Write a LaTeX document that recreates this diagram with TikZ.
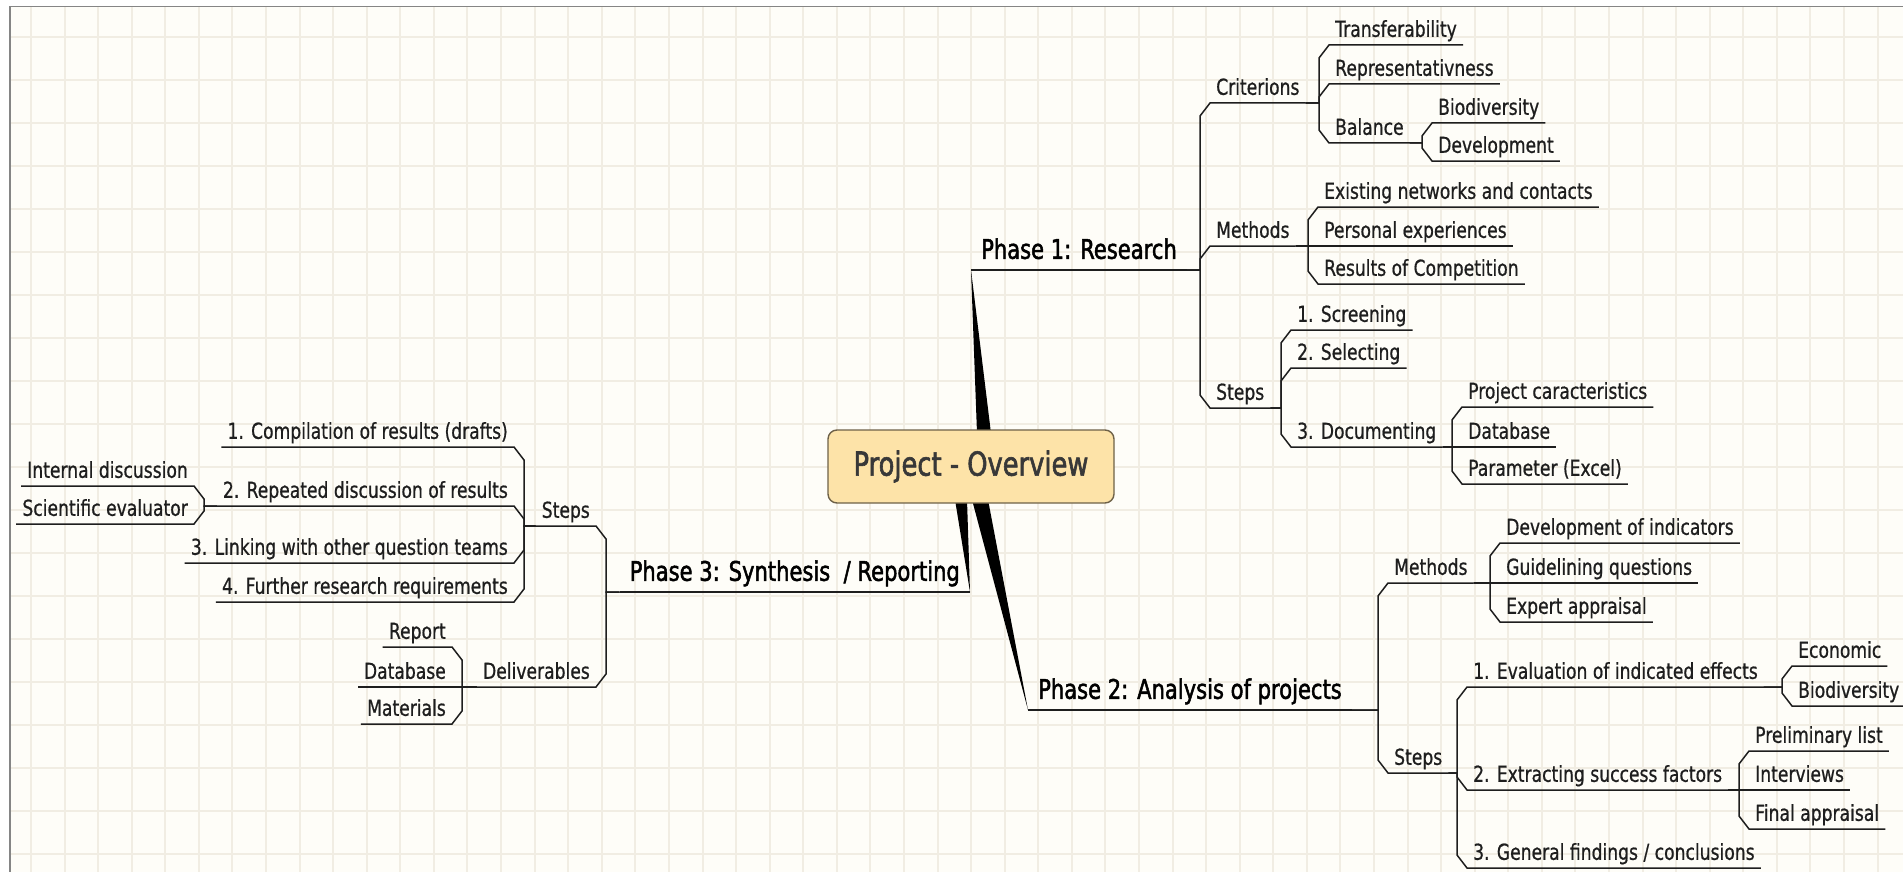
\documentclass[tikz,border=0pt]{standalone}
\usepackage{fontspec}
\setmainfont[FakeStretch=0.78,FakeBold=0.7]{DejaVu Sans}
\newfontfamily\heavyfamily[FakeStretch=0.78,FakeBold=1.8]{DejaVu Sans}
\usepackage{xcolor}
\usepackage{tikz}
\usetikzlibrary{calc,backgrounds}
\definecolor{hubfill}{HTML}{FDE3A8}
\definecolor{hubedge}{HTML}{6E6148}
\definecolor{paper}{HTML}{FEFDF8}
\definecolor{gridc}{HTML}{F1EDE3}
\definecolor{ink}{HTML}{1E1E1E}
\definecolor{framegray}{HTML}{858585}
\newcommand\leaffont{\fontsize{22}{26}\selectfont}
\newcommand\phasefont{\heavyfamily\fontsize{27}{31}\selectfont}
\newcommand\hubfont{\heavyfamily\fontsize{33}{38}\selectfont}

\begin{document}
\begin{tikzpicture}[x=1pt, y=-1pt,
    hub_box/.style={draw=hubedge, fill=hubfill, rounded corners=9pt, line width=1.4pt, minimum width=286pt, minimum height=73pt, font=\hubfont, text=black!78},
    phase_r/.style={anchor=south west, inner xsep=10pt, inner ysep=0pt, text depth=11pt, font=\phasefont, text=black},
    phase_l/.style={phase_r, anchor=south east},
    leaf_r/.style={anchor=south west, inner xsep=6pt, inner ysep=0pt, text depth=8pt, font=\leaffont, text=ink},
    leaf_l/.style={leaf_r, anchor=south east},
    link/.style={draw=ink, line width=1.5pt},
    wedge/.style={fill=black},
    grid_line/.style={draw=gridc, line width=2pt},
    frame_line/.style={draw=framegray, line width=1.5pt},
    fork/.style={to path={let \p1=(\tikztostart), \p2=(\tikztotarget),
        \n1={(abs(\y1-\y2)>2)*sign(\y1-\y2)*13} in
        -- ({\x2-10pt},{\y1}) -- ({\x2-10pt},{\y2+(\n1)*1pt}) -- (\p2)}},
    lfork/.style={to path={let \p1=(\tikztostart), \p2=(\tikztotarget),
        \n1={(abs(\y1-\y2)>2)*sign(\y1-\y2)*13} in
        -- ({\x2+10pt},{\y1}) -- ({\x2+10pt},{\y2+(\n1)*1pt}) -- (\p2)}}
]
    \useasboundingbox (0,0) rectangle (1903,872);

    % Paper and grid
    \begin{scope}[on background layer]
        \fill[white] (0,0) rectangle (1903,872);
        \fill[paper] (10,6.5) rectangle (1903,872);
        \begin{scope}
            \clip (10,6.5) rectangle (1903,872);
            \foreach \i in {0,...,55} \draw[grid_line] ({31+33.575*\i},0) -- ++(0,872);
            \foreach \j in {0,...,19} \draw[grid_line] (0,{37.3+42.97*\j}) -- ++(1903,0);
        \end{scope}
        \draw[frame_line] (1903,6.5) -- (10,6.5) -- (10,872);
    \end{scope}

    % Nodes
    \node[hub_box] (hub) at (971,466.5) {Project - Overview};
    \node[phase_r] (ph_research) at (971,270) {Phase 1: Research};
    \node[phase_r] (ph_analysis) at (1028,710) {Phase 2: Analysis of projects};
    \node[phase_l] (ph_synthesis) at (970,592) {Phase 3: Synthesis \ / Reporting};

    % Phase 1
    \node[leaf_r] (criterions) at (1210,103) {Criterions};
    \node[leaf_r] (methods_a) at (1210,246) {Methods};
    \node[leaf_r] (steps_a) at (1210,408) {Steps};
    \node[leaf_r] (transfer) at (1329,45) {Transferability};
    \node[leaf_r] (represent) at (1329,84) {Representativness};
    \node[leaf_r] (balance) at (1329,143) {Balance};
    \node[leaf_r] (bal_bio) at (1432,123) {Biodiversity};
    \node[leaf_r] (bal_dev) at (1432,161) {Development};
    \node[leaf_r] (networks) at (1318,207) {Existing networks and contacts};
    \node[leaf_r] (personal) at (1318,246) {Personal experiences};
    \node[leaf_r] (competition) at (1318,284) {Results of Competition};
    \node[leaf_r] (screening) at (1291,330) {1. Screening};
    \node[leaf_r] (selecting) at (1291,368) {2. Selecting};
    \node[leaf_r] (documenting) at (1291,447) {3. Documenting};
    \node[leaf_r] (caracter) at (1462,407) {Project caracteristics};
    \node[leaf_r] (database_a) at (1462,447) {Database};
    \node[leaf_r] (parameter) at (1462,484) {Parameter (Excel)};

    % Phase 2
    \node[leaf_r] (methods_b) at (1388,583) {Methods};
    \node[leaf_r] (steps_b) at (1388,773) {Steps};
    \node[leaf_r] (indicators) at (1500,543) {Development of indicators};
    \node[leaf_r] (guiding) at (1500,583) {Guidelining questions};
    \node[leaf_r] (expert) at (1500,622) {Expert appraisal};
    \node[leaf_r] (evaluation) at (1467,687) {1. Evaluation of indicated effects};
    \node[leaf_r] (extracting) at (1467,790) {2. Extracting success factors};
    \node[leaf_r] (findings) at (1467,868) {3. General findings / conclusions};
    \node[leaf_r] (economic) at (1792,666) {Economic};
    \node[leaf_r] (eval_bio) at (1792,706) {Biodiversity};
    \node[leaf_r] (prelim) at (1749,751) {Preliminary list};
    \node[leaf_r] (interviews) at (1749,790) {Interviews};
    \node[leaf_r] (final) at (1749,829) {Final appraisal};

    % Phase 3
    \node[leaf_l] (steps_c) at (596,526) {Steps};
    \node[leaf_l] (deliver) at (596,687) {Deliverables};
    \node[leaf_l] (compile) at (514,447) {1. Compilation of results (drafts)};
    \node[leaf_l] (repeated) at (514,506) {2. Repeated discussion of results};
    \node[leaf_l] (linking) at (514,563) {3. Linking with other question teams};
    \node[leaf_l] (further) at (514,602) {4. Further research requirements};
    \node[leaf_l] (internal) at (194,486) {Internal discussion};
    \node[leaf_l] (scientific) at (194,524) {Scientific evaluator};
    \node[leaf_l] (report) at (452,647) {Report};
    \node[leaf_l] (database_c) at (452,687) {Database};
    \node[leaf_l] (materials) at (452,724) {Materials};

    % Wedges from the hub
    \begin{scope}[on background layer]
        \fill[wedge] ($(hub.north)+(6,4)$) -- ($(hub.north)+(20,4)$) -- (ph_research.south west) -- cycle;
        \fill[wedge] ($(hub.south)+(1,-4)$) -- ($(hub.south)+(17,-4)$) -- (ph_analysis.south west) -- cycle;
        \fill[wedge] ($(hub.south)+(-16,-4)$) -- ($(hub.south)+(-4,-4)$) -- (ph_synthesis.south east) -- cycle;
    \end{scope}

    % Branches, phase 1
    \draw[link] (ph_research.south west) -- (ph_research.south east);
    \draw[link] (ph_research.south east) to[fork] (criterions.south west) -- (criterions.south east);
    \draw[link] (ph_research.south east) to[fork] (methods_a.south west) -- (methods_a.south east);
    \draw[link] (ph_research.south east) to[fork] (steps_a.south west) -- (steps_a.south east);
    \draw[link] (criterions.south east) to[fork] (transfer.south west) -- (transfer.south east);
    \draw[link] (criterions.south east) to[fork] (represent.south west) -- (represent.south east);
    \draw[link] (criterions.south east) to[fork] (balance.south west) -- (balance.south east);
    \draw[link] (balance.south east) to[fork] (bal_bio.south west) -- (bal_bio.south east);
    \draw[link] (balance.south east) to[fork] (bal_dev.south west) -- (bal_dev.south east);
    \draw[link] (methods_a.south east) to[fork] (networks.south west) -- (networks.south east);
    \draw[link] (methods_a.south east) to[fork] (personal.south west) -- (personal.south east);
    \draw[link] (methods_a.south east) to[fork] (competition.south west) -- (competition.south east);
    \draw[link] (steps_a.south east) to[fork] (screening.south west) -- (screening.south east);
    \draw[link] (steps_a.south east) to[fork] (selecting.south west) -- (selecting.south east);
    \draw[link] (steps_a.south east) to[fork] (documenting.south west) -- (documenting.south east);
    \draw[link] (documenting.south east) to[fork] (caracter.south west) -- (caracter.south east);
    \draw[link] (documenting.south east) to[fork] (database_a.south west) -- (database_a.south east);
    \draw[link] (documenting.south east) to[fork] (parameter.south west) -- (parameter.south east);

    % Branches, phase 2
    \draw[link] (ph_analysis.south west) -- (ph_analysis.south east);
    \draw[link] (ph_analysis.south east) to[fork] (methods_b.south west) -- (methods_b.south east);
    \draw[link] (ph_analysis.south east) to[fork] (steps_b.south west) -- (steps_b.south east);
    \draw[link] (methods_b.south east) to[fork] (indicators.south west) -- (indicators.south east);
    \draw[link] (methods_b.south east) to[fork] (guiding.south west) -- (guiding.south east);
    \draw[link] (methods_b.south east) to[fork] (expert.south west) -- (expert.south east);
    \draw[link] (steps_b.south east) to[fork] (evaluation.south west) -- (evaluation.south east);
    \draw[link] (steps_b.south east) to[fork] (extracting.south west) -- (extracting.south east);
    \draw[link] (steps_b.south east) to[fork] (findings.south west) -- (findings.south east);
    \draw[link] (evaluation.south east) to[fork] (economic.south west) -- (economic.south east);
    \draw[link] (evaluation.south east) to[fork] (eval_bio.south west) -- (eval_bio.south east);
    \draw[link] (extracting.south east) to[fork] (prelim.south west) -- (prelim.south east);
    \draw[link] (extracting.south east) to[fork] (interviews.south west) -- (interviews.south east);
    \draw[link] (extracting.south east) to[fork] (final.south west) -- (final.south east);

    % Branches, phase 3
    \draw[link] (ph_synthesis.south east) -- (ph_synthesis.south west);
    \draw[link] (ph_synthesis.south west) to[lfork] (steps_c.south east) -- (steps_c.south west);
    \draw[link] (ph_synthesis.south west) to[lfork] (deliver.south east) -- (deliver.south west);
    \draw[link] (steps_c.south west) to[lfork] (compile.south east) -- (compile.south west);
    \draw[link] (steps_c.south west) to[lfork] (repeated.south east) -- (repeated.south west);
    \draw[link] (steps_c.south west) to[lfork] (linking.south east) -- (linking.south west);
    \draw[link] (steps_c.south west) to[lfork] (further.south east) -- (further.south west);
    \draw[link] (repeated.south west) to[lfork] (internal.south east) -- (internal.south west);
    \draw[link] (repeated.south west) to[lfork] (scientific.south east) -- (scientific.south west);
    \draw[link] (deliver.south west) to[lfork] (report.south east) -- (report.south west);
    \draw[link] (deliver.south west) to[lfork] (database_c.south east) -- (database_c.south west);
    \draw[link] (deliver.south west) to[lfork] (materials.south east) -- (materials.south west);
\end{tikzpicture}
\end{document}
